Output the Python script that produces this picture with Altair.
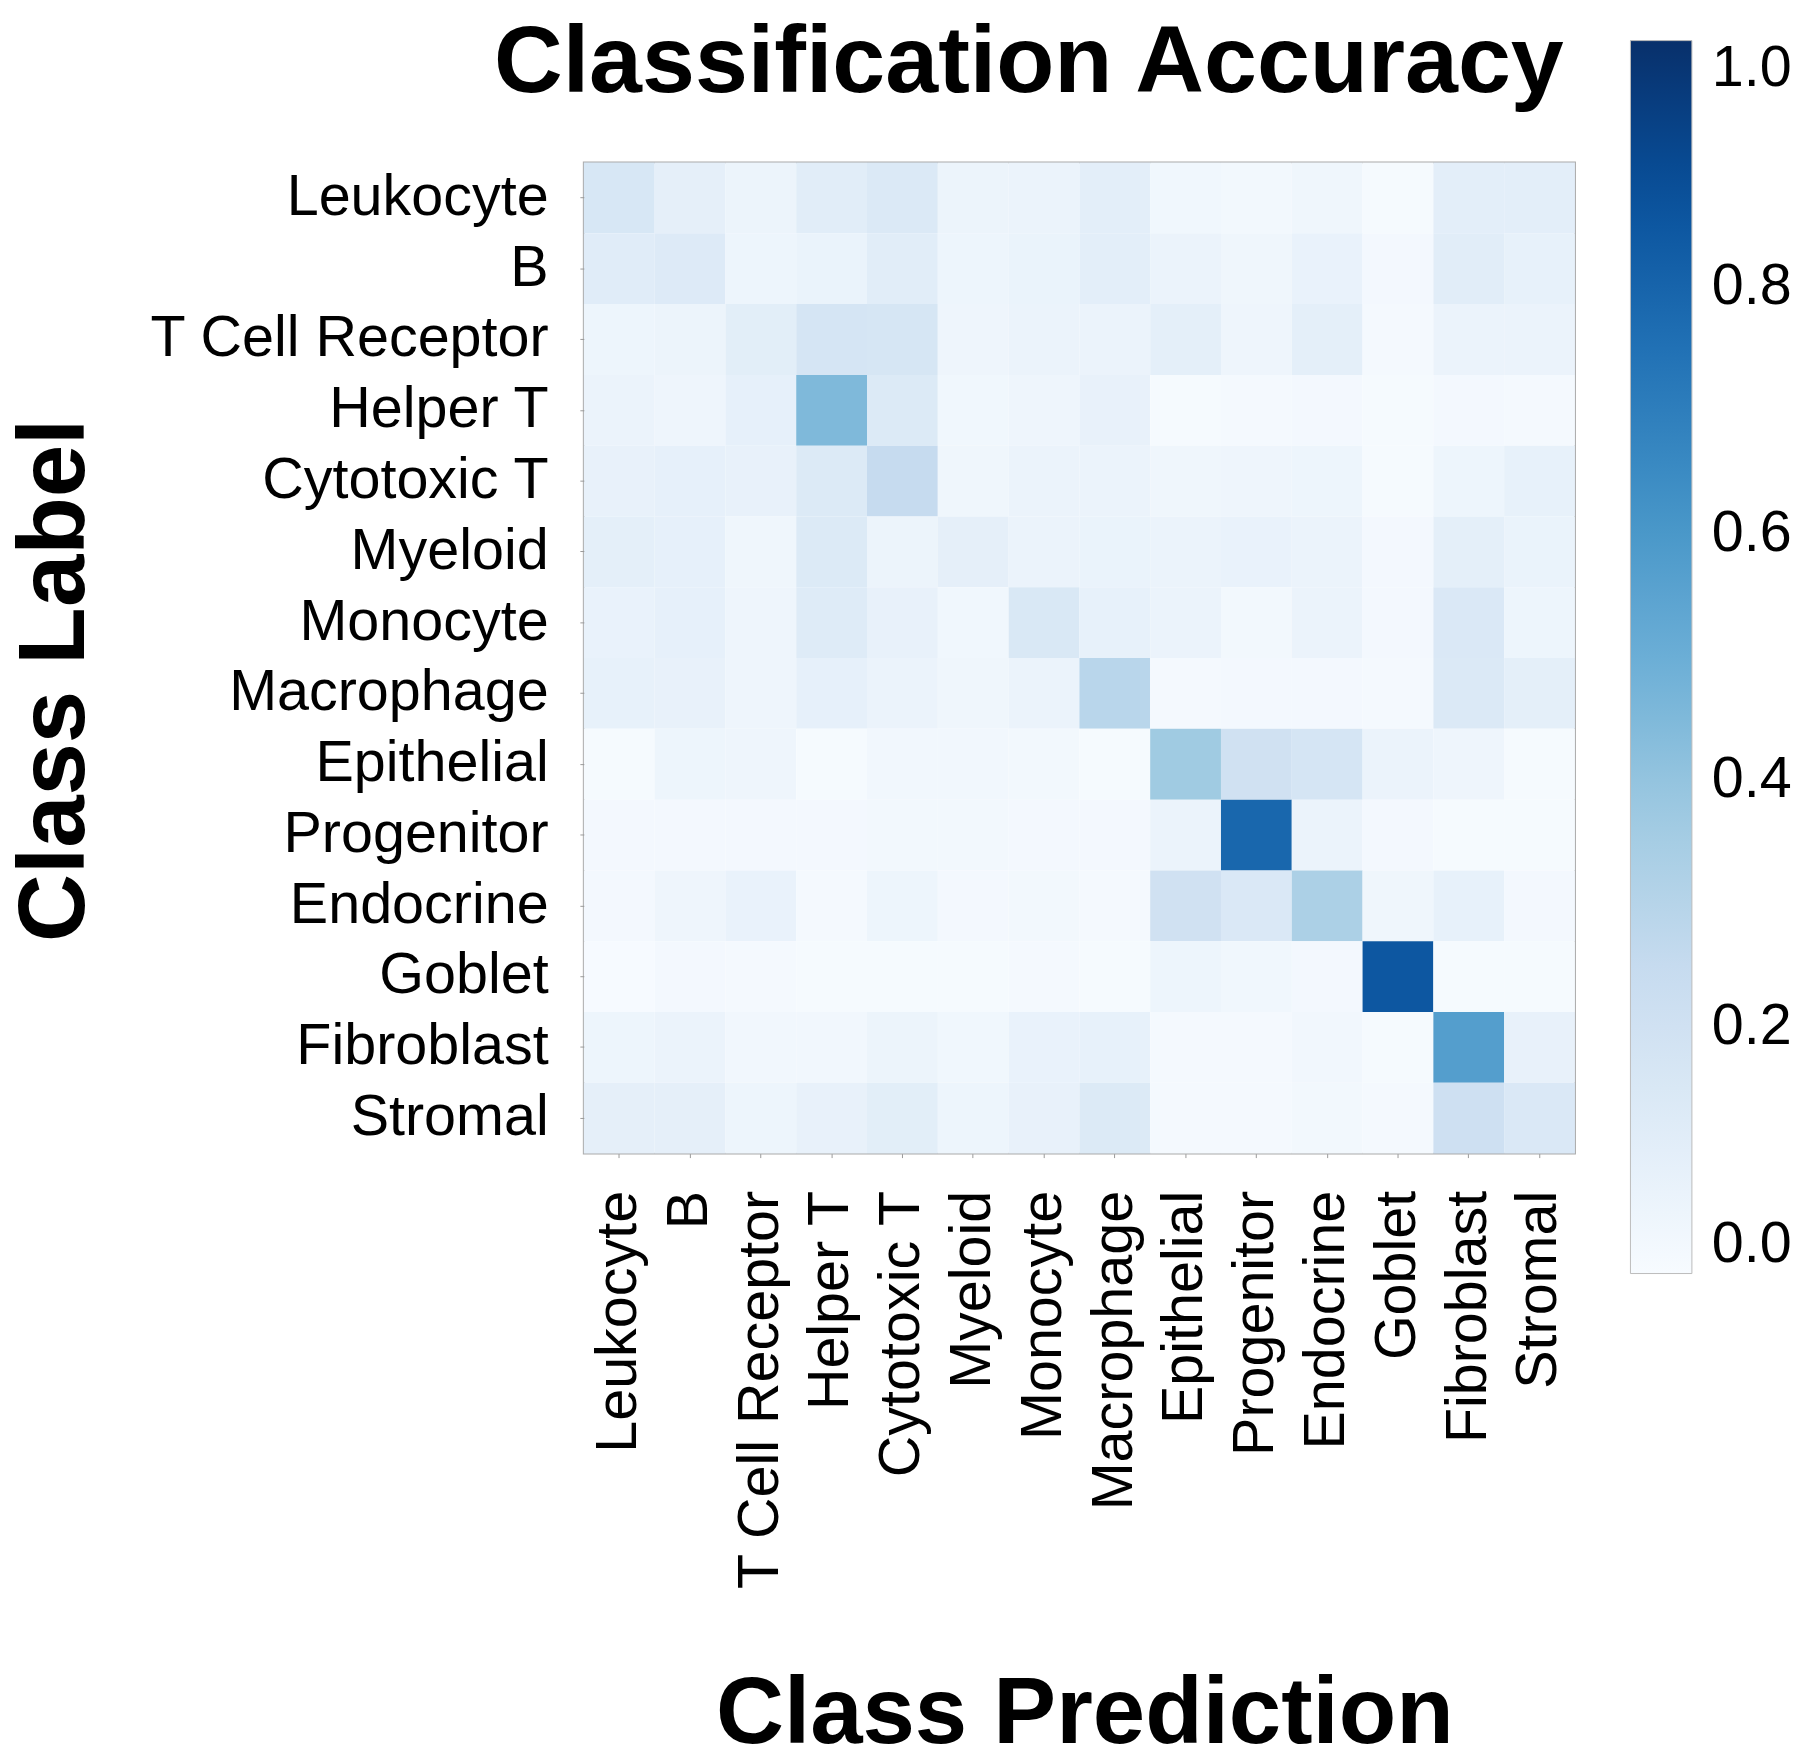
import altair as alt
import pandas as pd

classes = ["Leukocyte", "B", "T Cell Receptor", "Helper T", "Cytotoxic T", "Myeloid",
           "Monocyte", "Macrophage", "Epithelial", "Progenitor", "Endocrine", "Goblet",
           "Fibroblast", "Stromal"]

# rows = true class label, columns = predicted class (same order as classes)
leukocyte   = [0.16, 0.09, 0.055, 0.11, 0.14, 0.055, 0.06, 0.10, 0.035, 0.025, 0.04, 0.01, 0.10, 0.10]
b_cell      = [0.115, 0.13, 0.05, 0.065, 0.11, 0.05, 0.065, 0.10, 0.06, 0.04, 0.07, 0.02, 0.11, 0.08]
t_receptor  = [0.05, 0.055, 0.105, 0.17, 0.165, 0.045, 0.06, 0.06, 0.095, 0.045, 0.095, 0.015, 0.06, 0.06]
helper_t    = [0.06, 0.045, 0.085, 0.45, 0.135, 0.035, 0.045, 0.075, 0.01, 0.015, 0.02, 0.01, 0.02, 0.015]
cytotoxic_t = [0.075, 0.085, 0.075, 0.135, 0.25, 0.04, 0.06, 0.06, 0.04, 0.045, 0.05, 0.01, 0.05, 0.08]
myeloid     = [0.095, 0.085, 0.04, 0.135, 0.055, 0.09, 0.06, 0.065, 0.06, 0.07, 0.06, 0.02, 0.095, 0.065]
monocyte    = [0.07, 0.085, 0.045, 0.125, 0.075, 0.035, 0.15, 0.08, 0.06, 0.025, 0.06, 0.02, 0.145, 0.05]
macrophage  = [0.08, 0.075, 0.045, 0.085, 0.06, 0.04, 0.06, 0.29, 0.015, 0.02, 0.02, 0.015, 0.14, 0.095]
epithelial  = [0.01, 0.05, 0.045, 0.01, 0.03, 0.03, 0.025, 0.01, 0.37, 0.20, 0.17, 0.06, 0.045, 0.01]
progenitor  = [0.02, 0.02, 0.02, 0.02, 0.025, 0.025, 0.02, 0.02, 0.06, 0.79, 0.06, 0.02, 0.01, 0.01]
endocrine   = [0.02, 0.045, 0.07, 0.015, 0.05, 0.02, 0.025, 0.015, 0.20, 0.145, 0.33, 0.04, 0.08, 0.02]
goblet      = [0.005, 0.02, 0.015, 0.01, 0.01, 0.01, 0.015, 0.01, 0.05, 0.035, 0.02, 0.85, 0.01, 0.01]
fibroblast  = [0.05, 0.06, 0.03, 0.03, 0.055, 0.035, 0.07, 0.08, 0.015, 0.015, 0.03, 0.01, 0.57, 0.075]
stromal     = [0.09, 0.09, 0.05, 0.075, 0.105, 0.05, 0.075, 0.135, 0.015, 0.015, 0.025, 0.015, 0.21, 0.145]

rows = [leukocyte, b_cell, t_receptor, helper_t, cytotoxic_t, myeloid, monocyte, macrophage,
        epithelial, progenitor, endocrine, goblet, fibroblast, stromal]

legend_ticks = [0.0, 0.2, 0.4, 0.6, 0.8, 1.0]
blues_domain = [0.0, 0.125, 0.25, 0.375, 0.5, 0.625, 0.75, 0.875, 1.0]
blues_range = ["#f7fbff", "#deebf7", "#c6dbef", "#9ecae1", "#6baed6",
               "#4292c6", "#2171b5", "#08519c", "#08306b"]

records = []
for i, lab in enumerate(classes):
    for j, pred in enumerate(classes):
        records.append({"label": lab, "pred": pred, "acc": rows[i][j]})
df = pd.DataFrame(records)

FONT = "Liberation Sans"

chart = alt.Chart(df).mark_rect().encode(
    x=alt.X("pred:N", sort=classes,
            scale=alt.Scale(paddingInner=0, paddingOuter=0),
            axis=alt.Axis(title="Class Prediction", labelAngle=270, labelFontSize=58,
                          labelFont=FONT, labelColor="black", labelPadding=33,
                          tickSize=4, tickColor="#999", domain=False,
                          titleFontSize=95, titleFont=FONT, titleFontWeight="bold",
                          titleColor="black", titleX=505, titleY=594,
                          titleAlign="center", titleBaseline="alphabetic",
                          labelLimit=1000)),
    y=alt.Y("label:N", sort=classes,
            scale=alt.Scale(paddingInner=0, paddingOuter=0),
            axis=alt.Axis(title="Class Label", labelFontSize=58, labelFont=FONT,
                          labelColor="black", labelPadding=32, tickSize=4, tickColor="#999",
                          domain=False, titleFontSize=95, titleFont=FONT,
                          titleFontWeight="bold", titleColor="black",
                          titleX=-505, titleY=522, titleAngle=270, titleAlign="center",
                          titleBaseline="alphabetic", labelLimit=1000)),
    color=alt.Color("acc:Q",
                    scale=alt.Scale(domain=blues_domain, range=blues_range, interpolate="rgb"),
                    legend=alt.Legend(title=None, orient="none", legendX=1056, legendY=-123,
                                      direction="vertical", gradientLength=1244,
                                      gradientThickness=62, values=legend_ticks, format=".1f",
                                      labelFontSize=58, labelFont=FONT, labelColor="black",
                                      labelOffset=20, gradientStrokeColor="#bbb",
                                      gradientStrokeWidth=1, padding=0)),
).properties(
    width=1000, height=1000,
    title=alt.TitleParams("Classification Accuracy", fontSize=96, font=FONT,
                          fontWeight="bold", color="black", anchor="middle", dx=-51,
                          offset=-72),
    padding=0,
).configure_view(stroke="#aaa", strokeWidth=2)

chart.save("out.html", embed_options={"renderer": "svg", "actions": False})
